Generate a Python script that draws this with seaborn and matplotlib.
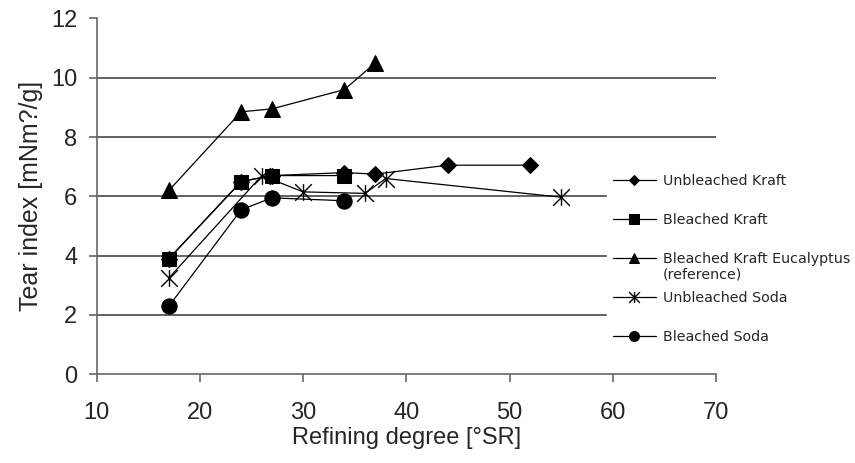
import numpy as np
import pandas as pd
import seaborn as sns
import matplotlib.pyplot as plt
from matplotlib.path import Path

# data
ubk_x = [17, 24, 27, 34, 37, 44, 52]
ubk_y = [3.9, 6.5, 6.7, 6.8, 6.75, 7.05, 7.05]

bk_x = [17, 24, 27, 34]
bk_y = [3.9, 6.5, 6.7, 6.7]

euc_x = [17, 24, 27, 34, 37]
euc_y = [6.2, 8.85, 8.95, 9.6, 10.5]

ubs_x = [17, 26, 30, 36, 38, 55]
ubs_y = [3.25, 6.7, 6.15, 6.1, 6.6, 5.97]

bs_x = [17, 24, 27, 34]
bs_y = [2.3, 5.55, 5.95, 5.85]

labels = ['Unbleached Kraft', 'Bleached Kraft', 'Bleached Kraft Eucalyptus',
          'Unbleached Soda', 'Bleached Soda']

# excel style star: an X with a vertical bar
star = Path([(-1, -1), (1, 1), (-1, 1), (1, -1), (0, -1), (0, 1)],
            [Path.MOVETO, Path.LINETO, Path.MOVETO, Path.LINETO, Path.MOVETO, Path.LINETO])

series = [
    (ubk_x, ubk_y, dict(marker='D', markersize=8)),
    (bk_x, bk_y, dict(marker='s', markersize=10.5)),
    (euc_x, euc_y, dict(marker='^', markersize=12)),
    (ubs_x, ubs_y, dict(marker=star, markersize=12, markerfacecolor='none', markeredgewidth=1)),
    (bs_x, bs_y, dict(marker='o', markersize=11)),
]

sns.set_style('ticks')
plt.rcParams['font.family'] = ['Liberation Sans', 'DejaVu Sans']

fig = plt.figure(figsize=(8.55, 4.63), dpi=100)
ax = fig.add_axes([0.1131, 0.1916, 0.7243, 0.7687])

for (xs, ys, kw), lab in zip(series, labels):
    df = pd.DataFrame({'x': xs, 'y': ys})
    sns.lineplot(data=df, x='x', y='y', sort=False, estimator=None, ax=ax,
                 color='black', lw=0.9, markeredgecolor='black', label=lab, **kw)

ax.set_xlim(10, 70)
ax.set_ylim(0, 12)
ax.set_xticks(np.arange(10, 71, 10))
ax.set_yticks(np.arange(0, 13, 2))
ax.tick_params(labelsize=17, length=6, width=1.2, color='#666666')
ax.tick_params(axis='x', pad=14)
ax.tick_params(axis='y', pad=8)
ax.set_xlabel('Refining degree [°SR]', fontsize=17, labelpad=2)
ax.set_ylabel('Tear index [mNm?/g]', fontsize=18, labelpad=6)

ax.yaxis.grid(True, color='#555555', lw=1.3)
gl = ax.get_ygridlines()
gl[0].set_visible(False)
gl[-1].set_visible(False)
ax.set_axisbelow(True)

sns.despine(ax=ax)
for s in ['left', 'bottom']:
    ax.spines[s].set_color('#666666')
    ax.spines[s].set_linewidth(1.2)

leg = ax.legend(loc='center left', bbox_to_anchor=(607 / 855, 0.44),
                bbox_transform=fig.transFigure, borderaxespad=0, borderpad=0.4,
                frameon=True, framealpha=1, edgecolor='white', fancybox=False,
                markerscale=0.65, handlelength=3.0, handletextpad=0.5,
                labelspacing=1.75, prop={'family': 'DejaVu Sans', 'size': 10.3})
ax.annotate('(reference)', xy=(0, 0), xycoords=leg.get_texts()[2],
            xytext=(0, -1), textcoords='offset points', ha='left', va='top',
            family='DejaVu Sans', fontsize=10.3, zorder=10)

fig.savefig('out.png', dpi=100)
